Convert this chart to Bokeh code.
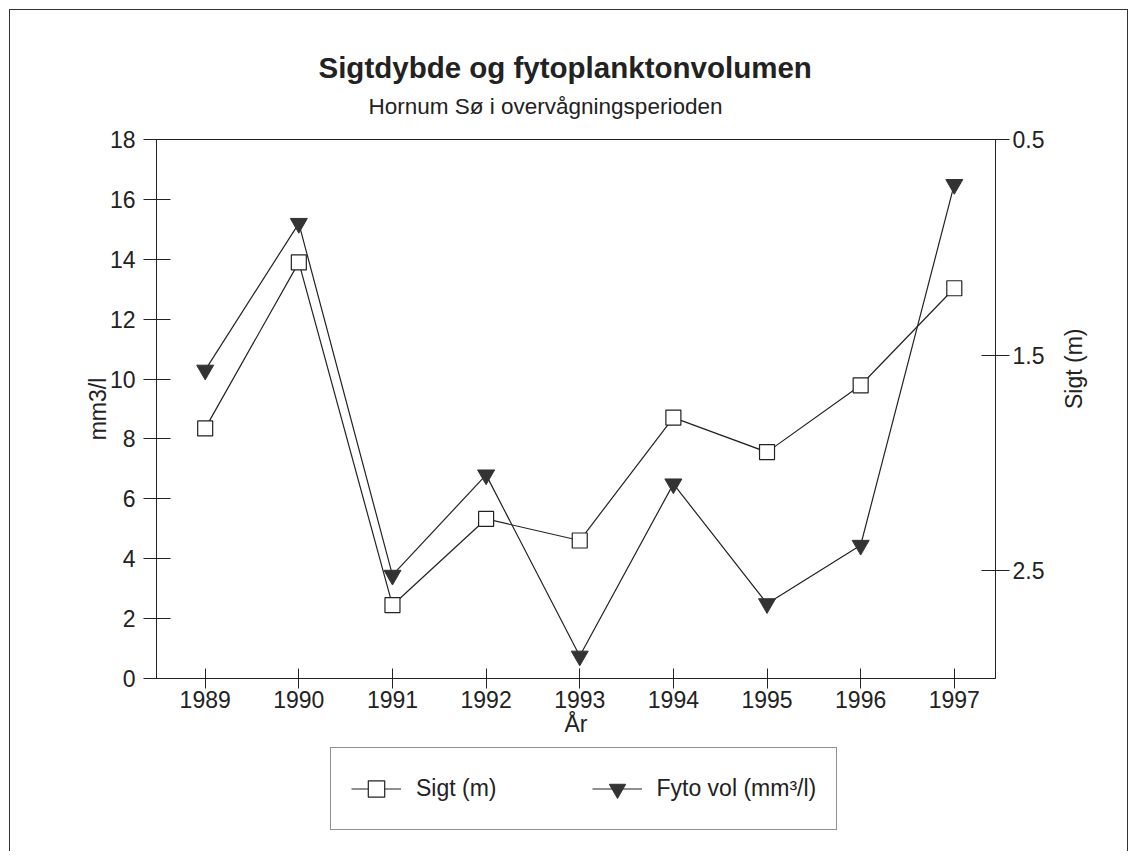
import math
from bokeh.plotting import figure
from bokeh.layouts import column
from bokeh.models import Range1d, LinearAxis, FixedTicker, Legend, LegendItem, Title
from bokeh.embed import file_html
from bokeh.resources import INLINE

# ---- data ----
years = [1989, 1990, 1991, 1992, 1993, 1994, 1995, 1996, 1997]
sigt_m = [1.84, 1.07, 2.66, 2.26, 2.36, 1.79, 1.95, 1.64, 1.19]
fyto_vol = [10.3, 15.2, 3.45, 6.8, 0.75, 6.5, 2.5, 4.45, 16.5]
left_ticks = [0, 2, 4, 6, 8, 10, 12, 14, 16, 18]
right_ticks = [0.5, 1.5, 2.5]

title_text = "Sigtdybde og fytoplanktonvolumen"
subtitle_text = "Hornum Sø i overvågningsperioden"
legend_labels = ["Sigt (m)", "Fyto vol (mm³/l)"]

FONT = "Liberation Sans"
INK = "#222222"

p = figure(frame_width=839, frame_height=539,
           x_range=Range1d(1988.48, 1997.44), y_range=Range1d(0, 18),
           output_backend="svg", toolbar_location=None,
           min_border_left=146, min_border_right=132,
           min_border_top=129, min_border_bottom=62)
p.extra_y_ranges = {"sigt": Range1d(3.0, 0.5)}
p.grid.visible = False
p.outline_line_color = INK
p.outline_line_width = 1
p.background_fill_color = "white"
p.border_fill_color = "white"

# titles (first added is nearest the frame)
p.add_layout(Title(text=subtitle_text, align="left", offset=212, standoff=41,
                   text_font=FONT, text_font_size="22.5px", text_font_style="normal",
                   text_color=INK), "above")
p.add_layout(Title(text=title_text, align="left", offset=162, standoff=-25,
                   text_font=FONT, text_font_size="29.5px", text_font_style="bold",
                   text_color=INK), "above")

# x axis
xa = p.xaxis[0]
xa.ticker = FixedTicker(ticks=years)
xa.major_tick_in = 10
xa.major_tick_out = 10
xa.minor_tick_line_color = None
xa.axis_label = "År"
xa.major_label_standoff = 2
xa.axis_label_standoff = 0

# left axis
ya = p.yaxis[0]
ya.ticker = FixedTicker(ticks=left_ticks)
ya.major_tick_in = 14
ya.major_tick_out = 13
ya.minor_tick_line_color = None
ya.axis_label = "mm3/l"
ya.major_label_standoff = 8
ya.axis_label_standoff = -4

# right axis
ra = LinearAxis(y_range_name="sigt", ticker=FixedTicker(ticks=right_ticks),
                axis_label="Sigt (m)")
ra.major_tick_in = 14
ra.major_tick_out = 14
ra.minor_tick_line_color = None
ra.major_label_standoff = 3
ra.axis_label_standoff = 27
try:
    ra.axis_label_orientation = math.pi / 2
except Exception:
    pass
p.add_layout(ra, "right")

for ax in (xa, ya, ra):
    ax.axis_line_color = INK
    ax.major_tick_line_color = INK
    ax.major_label_text_font = FONT
    ax.major_label_text_font_size = "23px"
    ax.major_label_text_color = INK
    ax.axis_label_text_font = FONT
    ax.axis_label_text_font_size = "23px"
    ax.axis_label_text_font_style = "normal"
    ax.axis_label_text_color = INK

# series
p.line(years, sigt_m, y_range_name="sigt", line_color=INK, line_width=1.2)
p.scatter(years, sigt_m, y_range_name="sigt", marker="square", size=15,
          fill_color="white", line_color=INK, line_width=1.2)
p.line(years, fyto_vol, line_color=INK, line_width=1.2)
p.scatter(years, fyto_vol, marker="inverted_triangle", size=17,
          fill_color="#333333", line_color="#333333")

# legend strip below the chart: key renderers carry the series but lie outside
# this strip's (hidden) ranges, so only their legend keys show
q = figure(width=1117, height=105, x_range=Range1d(0, 1), y_range=Range1d(0, 1),
           output_backend="svg", toolbar_location=None,
           x_axis_type=None, y_axis_type=None,
           min_border_left=0, min_border_right=0, min_border_top=0, min_border_bottom=0)
q.grid.visible = False
q.outline_line_color = None
q.background_fill_color = "white"
q.border_fill_color = "white"
kl1 = q.line(years, sigt_m, line_color=INK, line_width=1.2)
km1 = q.scatter(years, sigt_m, marker="square", size=15, fill_color="white",
                line_color=INK, line_width=1.2)
kl2 = q.line(years, fyto_vol, line_color=INK, line_width=1.2)
km2 = q.scatter(years, fyto_vol, marker="inverted_triangle", size=17,
                fill_color="#333333", line_color="#333333")

legend = Legend(items=[LegendItem(label=legend_labels[0], renderers=[kl1, km1]),
                       LegendItem(label=legend_labels[1], renderers=[kl2, km2])],
                location=(174, 15), orientation="horizontal",
                padding=20, spacing=95, glyph_width=50, glyph_height=41,
                label_height=41, label_standoff=15,
                label_text_font=FONT, label_text_font_size="23px",
                label_text_color=INK, border_line_color=INK,
                border_line_width=1, background_fill_color="white",
                margin=0)
q.add_layout(legend, "center")

layout = column(p, q, spacing=0)
layout.styles = {"border-top": "1px solid #333", "border-left": "1px solid #333",
                 "border-right": "1px solid #333", "margin-left": "9px",
                 "margin-top": "9px", "padding-bottom": "6px"}

open("out.html", "w").write(file_html(layout, INLINE))
